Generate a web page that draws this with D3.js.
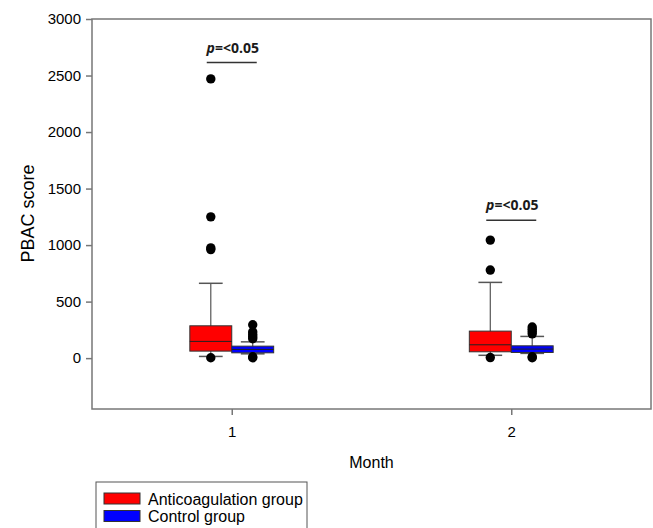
<!DOCTYPE html>
<html>
<head>
<meta charset="utf-8">
<script src="https://cdn.jsdelivr.net/npm/d3@7"></script>
<style>
  body { margin: 0; background: #fff; }
  text { font-family: "Liberation Sans", Arial, sans-serif; }
</style>
</head>
<body>
<div id="chart"></div>
<script>
//////////////////////////////////////////////////////////////
/////////////////////// Data /////////////////////////////////
//////////////////////////////////////////////////////////////

var months = [1, 2];
var groups = ["Anticoagulation group", "Control group"];
var groupColors = ["#ff0000", "#0000ff"];

// Anticoagulation group, one value per month
var antiLow = [15, 25];
var antiQ1 = [62, 56];
var antiMedian = [148, 118];
var antiQ3 = [286, 239];
var antiHigh = [662, 670];
var antiOutliers = [[2470, 1250, 975, 960, 3], [1044, 779, 5]];

// Control group
var ctrlLow = [38, 42];
var ctrlQ1 = [47, 50];
var ctrlMedian = [77, 80];
var ctrlQ3 = [106, 109];
var ctrlHigh = [144, 192];
var ctrlOutliers = [[295, 232, 210, 190, 172, 12, 3], [275, 255, 235, 215, 12, 4]];

// significance marks
var pLabels = ["=<0.05", "=<0.05"];
var pBarValue = [2615, 1220];

var yTicks = [0, 500, 1000, 1500, 2000, 2500, 3000];

//////////////////////////////////////////////////////////////
/////////////////////// Settings /////////////////////////////
//////////////////////////////////////////////////////////////

var width = 653;
var height = 528;
var plot = {left: 92, right: 651, top: 19, bottom: 409};

var boxWidth = 0.15;   // in month units
var capWidth = 0.085;

var xScale = d3.scaleLinear().domain([0.5, 2.5]).range([plot.left, plot.right]);
var yScale = d3.scaleLinear().domain([-450, 3000]).range([plot.bottom, plot.top]);

var svg = d3.select("#chart").append("svg")
    .attr("width", width)
    .attr("height", height);

//////////////////////////////////////////////////////////////
/////////////////////// Axes /////////////////////////////////
//////////////////////////////////////////////////////////////

var yAxis = d3.axisLeft(yScale).tickValues(yTicks).tickSize(6).tickPadding(5).tickFormat(d3.format("d"));
var xAxis = d3.axisBottom(xScale).tickValues(months).tickSize(6).tickPadding(11).tickFormat(d3.format("d"));

var gy = svg.append("g")
    .attr("transform", "translate(" + plot.left + ",0)")
    .call(yAxis);
gy.select(".domain").remove();

var gx = svg.append("g")
    .attr("transform", "translate(0," + plot.bottom + ")")
    .call(xAxis);
gx.select(".domain").remove();

svg.selectAll(".tick line").attr("stroke", "#777").attr("stroke-width", 1.5);
svg.selectAll(".tick text").attr("fill", "#000").style("font-size", "15px")
    .style("font-family", "'Liberation Sans', Arial, sans-serif");

//Frame
svg.append("rect")
    .attr("x", plot.left)
    .attr("y", plot.top)
    .attr("width", plot.right - plot.left)
    .attr("height", plot.bottom - plot.top)
    .attr("fill", "none")
    .attr("stroke", "#777")
    .attr("stroke-width", 1.5);

//Axis titles
svg.append("text")
    .attr("transform", "translate(34," + ((yScale(0) + yScale(3000)) / 2 + 25) + ") rotate(-90)")
    .attr("text-anchor", "middle")
    .style("font-size", "18px")
    .text("PBAC score");

svg.append("text")
    .attr("x", (plot.left + plot.right) / 2)
    .attr("y", 468)
    .attr("text-anchor", "middle")
    .style("font-size", "16px")
    .text("Month");

//////////////////////////////////////////////////////////////
/////////////////////// Boxes ////////////////////////////////
//////////////////////////////////////////////////////////////

var boxData = [];
months.forEach(function(m, i) {
    boxData.push({month: m, offset: -boxWidth / 2, color: groupColors[0],
        low: antiLow[i], q1: antiQ1[i], med: antiMedian[i], q3: antiQ3[i], high: antiHigh[i], out: antiOutliers[i]});
    boxData.push({month: m, offset: boxWidth / 2, color: groupColors[1],
        low: ctrlLow[i], q1: ctrlQ1[i], med: ctrlMedian[i], q3: ctrlQ3[i], high: ctrlHigh[i], out: ctrlOutliers[i]});
});

var boxes = svg.selectAll(".box")
    .data(boxData).enter()
    .append("g")
        .attr("class", "box");

//whiskers
boxes.append("line")
    .attr("x1", function(d) { return xScale(d.month + d.offset); })
    .attr("x2", function(d) { return xScale(d.month + d.offset); })
    .attr("y1", function(d) { return yScale(d.high); })
    .attr("y2", function(d) { return yScale(d.low); })
    .attr("stroke", "#555")
    .attr("stroke-width", 1.2);

boxes.selectAll(".cap")
    .data(function(d) { return [d.high, d.low].map(function(v) { return {v: v, d: d}; }); })
    .enter().append("line")
        .attr("class", "cap")
        .attr("x1", function(c) { return xScale(c.d.month + c.d.offset - capWidth / 2); })
        .attr("x2", function(c) { return xScale(c.d.month + c.d.offset + capWidth / 2); })
        .attr("y1", function(c) { return yScale(c.v); })
        .attr("y2", function(c) { return yScale(c.v); })
        .attr("stroke", "#555")
        .attr("stroke-width", 1.5);

boxes.append("rect")
    .attr("x", function(d) { return xScale(d.month + d.offset - boxWidth / 2); })
    .attr("width", function(d) { return xScale(boxWidth) - xScale(0); })
    .attr("y", function(d) { return yScale(d.q3); })
    .attr("height", function(d) { return yScale(d.q1) - yScale(d.q3); })
    .attr("fill", function(d) { return d.color; })
    .attr("stroke", "#333")
    .attr("stroke-width", 1);

boxes.append("line")
    .attr("x1", function(d) { return xScale(d.month + d.offset - boxWidth / 2); })
    .attr("x2", function(d) { return xScale(d.month + d.offset + boxWidth / 2); })
    .attr("y1", function(d) { return yScale(d.med); })
    .attr("y2", function(d) { return yScale(d.med); })
    .attr("stroke", "#222")
    .attr("stroke-width", 1);

//outliers
boxes.selectAll(".outlier")
    .data(function(d) { return d.out.map(function(v) { return {v: v, d: d}; }); })
    .enter().append("circle")
        .attr("class", "outlier")
        .attr("cx", function(c) { return xScale(c.d.month + c.d.offset); })
        .attr("cy", function(c) { return yScale(c.v); })
        .attr("r", 4.7)
        .attr("fill", "#000");

//////////////////////////////////////////////////////////////
/////////////////////// p values /////////////////////////////
//////////////////////////////////////////////////////////////

months.forEach(function(m, i) {
    var yb = yScale(pBarValue[i]);
    svg.append("line")
        .attr("x1", xScale(m) - 25)
        .attr("x2", xScale(m) + 25)
        .attr("y1", yb)
        .attr("y2", yb)
        .attr("stroke", "#333")
        .attr("stroke-width", 1.5);

    var t = svg.append("text")
        .attr("x", xScale(m) + 1)
        .attr("y", yb - 10)
        .attr("text-anchor", "middle")
        .style("font-family", "'Open Sans', sans-serif")
        .style("font-weight", "bold")
        .style("font-size", "14px")
        .attr("fill", "#1a1a1a");
    t.append("tspan").style("font-style", "italic").text("p");
    t.append("tspan").text(pLabels[i]);
});

//////////////////////////////////////////////////////////////
/////////////////////// Legend ///////////////////////////////
//////////////////////////////////////////////////////////////

var legend = svg.append("g").attr("transform", "translate(96,482)");

legend.append("rect")
    .attr("width", 211)
    .attr("height", 60)
    .attr("fill", "#fff")
    .attr("stroke", "#555")
    .attr("stroke-width", 1);

legend.selectAll(".swatch")
    .data(groups).enter()
    .append("rect")
        .attr("x", 8)
        .attr("y", function(d, i) { return 11 + i * 17.5; })
        .attr("width", 36)
        .attr("height", 11)
        .attr("fill", function(d, i) { return groupColors[i]; })
        .attr("stroke", "#333")
        .attr("stroke-width", 1);

legend.selectAll(".legendText")
    .data(groups).enter()
    .append("text")
        .attr("x", 52)
        .attr("y", function(d, i) { return 22.5 + i * 17.5; })
        .style("font-size", "16px")
        .text(function(d) { return d; });
</script>
</body>
</html>
